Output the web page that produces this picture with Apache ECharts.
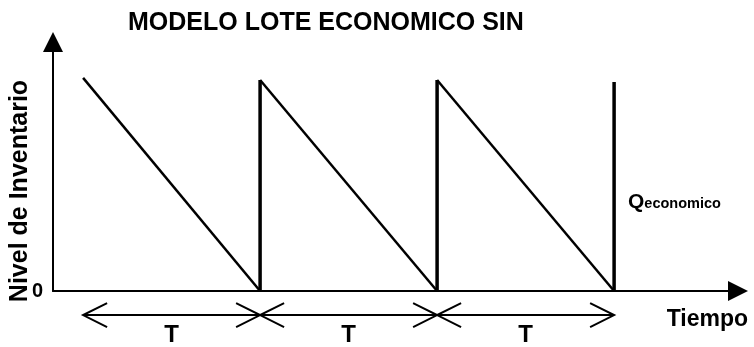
<!DOCTYPE html>
<html>
<head>
<meta charset="utf-8">
<script src="https://cdn.jsdelivr.net/npm/echarts@6/dist/echarts.min.js"></script>
<style>
  html, body { margin: 0; padding: 0; background: #fff; }
  #chart { width: 754px; height: 347px; }
</style>
</head>
<body>
<div id="chart"></div>
<script>
// tiempo de inicio de cada ciclo (en unidades de T)
var cycleStart = [0, 1, 2]
// nivel de inventario al inicio de cada ciclo
var cyclePeak = [1.01, 1.0, 1.0]
// reposiciones: instante y nivel alcanzado
var refillTime = [1, 2, 3]
var refillLevel = [1.0, 1.0, 0.99]
// periodos marcados con flecha doble
var periods = [[0, 1], [1, 2], [2, 3]]
var periodLabel = ['T', 'T', 'T']
var arrowLevel = -0.114
var labelLevel = -0.21

var FONT = '"Liberation Sans", Arial, sans-serif'
var chart = echarts.init(document.getElementById('chart'))

var series = []
// descenso del inventario
cycleStart.forEach(function (t, i) {
  series.push({
    type: 'line',
    data: [[t, cyclePeak[i]], [refillTime[i], 0]],
    symbol: 'none',
    silent: true,
    lineStyle: { color: '#000', width: 2.5 }
  })
})
// reposicion instantanea
refillTime.forEach(function (t, i) {
  series.push({
    type: 'line',
    data: [[t, 0], [t, refillLevel[i]]],
    symbol: 'none',
    silent: true,
    lineStyle: { color: '#000', width: 3.5 }
  })
})
// flechas dobles con la T
series.push({
  type: 'custom',
  clip: false,
  silent: true,
  data: periods.map(function (p) { return [p[0], p[1], arrowLevel] }),
  encode: { x: [0, 1], y: 2 },
  renderItem: function (params, api) {
    var a = api.coord([api.value(0), arrowLevel])
    var b = api.coord([api.value(1), arrowLevel])
    var m = api.coord([(api.value(0) + api.value(1)) / 2, labelLevel])
    var len = 24
    var h = 12
    var st = { stroke: '#000', lineWidth: 2, fill: null }
    return {
      type: 'group',
      children: [
        { type: 'line', shape: { x1: a[0], y1: a[1], x2: b[0], y2: b[1] }, style: st },
        { type: 'polyline', shape: { points: [[a[0] + len, a[1] - h], [a[0], a[1]], [a[0] + len, a[1] + h]] }, style: st },
        { type: 'polyline', shape: { points: [[b[0] - len, b[1] - h], [b[0], b[1]], [b[0] - len, b[1] + h]] }, style: st },
        {
          type: 'text',
          x: m[0],
          y: m[1],
          style: {
            text: periodLabel[params.dataIndex],
            fill: '#000',
            fontSize: 24,
            fontWeight: 'bold',
            fontFamily: FONT,
            align: 'center',
            verticalAlign: 'middle'
          }
        }
      ]
    }
  }
})

chart.setOption({
  animation: false,
  title: {
    text: 'MODELO LOTE ECONOMICO SIN',
    left: 123,
    top: 6,
    textStyle: { color: '#000', fontSize: 25, fontWeight: 'bold', fontFamily: FONT }
  },
  grid: { left: 53, right: 16, top: 42, bottom: 56, containLabel: false },
  xAxis: {
    type: 'value',
    min: -0.17,
    max: 3.7,
    axisLine: {
      show: true,
      onZero: false,
      symbol: ['none', 'triangle'],
      symbolSize: [20, 20],
      lineStyle: { color: '#000', width: 2 }
    },
    axisTick: { show: false },
    axisLabel: { show: false },
    splitLine: { show: false }
  },
  yAxis: {
    type: 'value',
    min: 0,
    max: 1.18,
    interval: 1,
    axisLine: {
      show: true,
      onZero: false,
      symbol: ['none', 'triangle'],
      symbolSize: [20, 20],
      lineStyle: { color: '#000', width: 2 }
    },
    axisTick: { show: false },
    axisLabel: {
      margin: 10,
      color: '#000',
      fontSize: 20,
      fontWeight: 'bold',
      fontFamily: FONT,
      formatter: function (v) { return v === 0 ? '0' : '' }
    },
    splitLine: { show: false }
  },
  graphic: [
    {
      type: 'text',
      x: 20,
      y: 191,
      rotation: Math.PI / 2,
      style: {
        text: 'Nivel de Inventario',
        fill: '#000',
        fontSize: 25,
        fontWeight: 'bold',
        fontFamily: FONT,
        align: 'center',
        verticalAlign: 'middle'
      }
    },
    {
      type: 'text',
      x: 748,
      y: 320,
      style: {
        text: 'Tiempo',
        fill: '#000',
        fontSize: 23,
        fontWeight: 'bold',
        fontFamily: FONT,
        align: 'right',
        verticalAlign: 'middle'
      }
    },
    {
      type: 'text',
      x: 628,
      y: 202,
      style: {
        text: '{q|Q}{s|economico}',
        fill: '#000',
        fontFamily: FONT,
        fontWeight: 'bold',
        verticalAlign: 'middle',
        rich: {
          q: { fontSize: 21, fontWeight: 'bold', fontFamily: FONT, verticalAlign: 'bottom' },
          s: { fontSize: 14.5, fontWeight: 'bold', fontFamily: FONT, verticalAlign: 'bottom', padding: [0, 0, 1, 0] }
        }
      }
    }
  ],
  series: series
})
</script>
</body>
</html>
